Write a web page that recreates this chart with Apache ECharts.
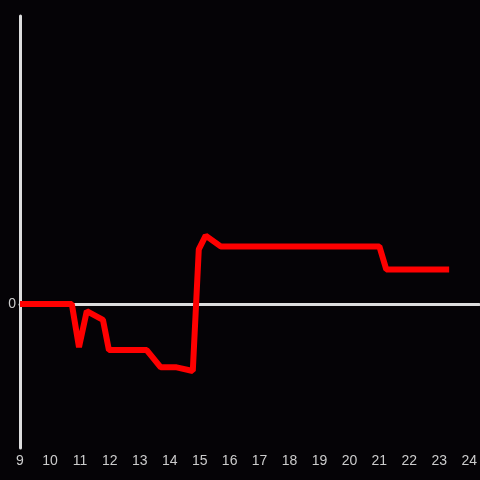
<!DOCTYPE html>
<html>
<head>
<meta charset="utf-8">
<script src="https://cdn.jsdelivr.net/npm/echarts@6/dist/echarts.min.js"></script>
<style>
html, body { margin: 0; padding: 0; background: #050306; }
#chart { width: 480px; height: 480px; }
</style>
</head>
<body>
<div id="chart"></div>
<script>
// points
const xValues = [9, 10.73, 10.97, 11.23, 11.77, 11.97, 13.23, 13.7, 14.23, 14.77, 14.97, 15.2, 15.7, 21.0, 21.23, 23.33]
const yValues = [0, 0, -0.30, -0.05, -0.11, -0.32, -0.32, -0.44, -0.44, -0.465, 0.38, 0.475, 0.40, 0.40, 0.24, 0.24]

const lineData = xValues.map((x, i) => [x, yValues[i]])

let myChart = echarts.init(document.getElementById('chart'))
let option = {
    backgroundColor: '#050306',
    animation: false,
    grid: {
        left: 20,
        right: 0,
        top: 16,
        bottom: 32
    },
    xAxis: {
        type: 'value',
        min: 9,
        max: 24.33,
        interval: 1,
        axisLine: {
            onZero: true,
            lineStyle: { color: '#dddddd', width: 3 }
        },
        axisTick: { show: false },
        splitLine: { show: false },
        axisLabel: {
            color: '#cccccc',
            fontSize: 14,
            margin: 6,
            showMaxLabel: false,
            formatter: function (val) {
                return val > 24 ? '' : String(val)
            }
        }
    },
    yAxis: {
        type: 'value',
        min: -1,
        max: 2,
        interval: 1,
        axisLine: {
            show: true,
            lineStyle: { color: '#dddddd', width: 3 }
        },
        axisTick: { show: false },
        splitLine: { show: false },
        axisLabel: {
            color: '#cccccc',
            fontSize: 14,
            margin: 4,
            formatter: function (val) {
                return val === 0 ? '0' : ''
            }
        }
    },
    series: [
        {
            type: 'line',
            data: lineData,
            showSymbol: false,
            lineStyle: { color: '#ff0000', width: 6 },
            itemStyle: { color: '#ff0000' }
        }
    ]
}
myChart.setOption(option)
</script>
</body>
</html>
